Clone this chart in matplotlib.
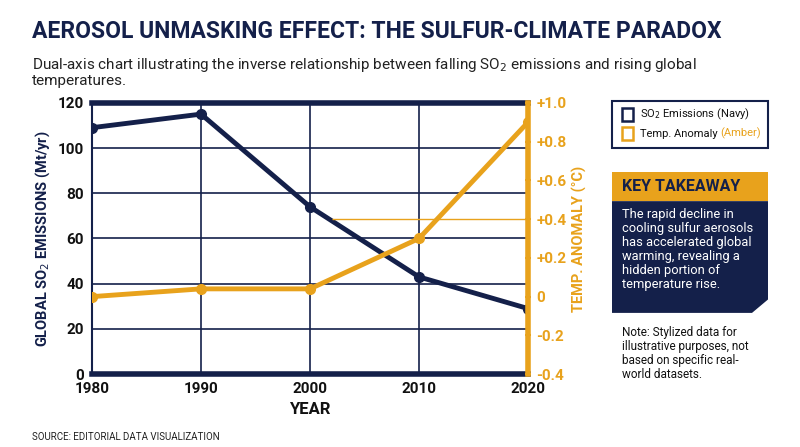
import matplotlib
matplotlib.use("Agg")
import matplotlib.pyplot as plt
from matplotlib.patches import Polygon, Rectangle

plt.rcParams['font.family'] = ['Roboto', 'DejaVu Sans']

NAVY = "#14204a"
AMBER = "#e8a21c"

years = [1980, 1990, 2000, 2010, 2020]
so2 = [109, 115, 74, 43, 29]
temp = [0.0, 0.04, 0.04, 0.30, 0.90]

fig = plt.figure(figsize=(8, 4.47), dpi=100)
ax = fig.add_axes([0.115, 0.163, 0.545, 0.607])
ax.plot(years, so2, color=NAVY, lw=3.5, marker='o', ms=7, zorder=4)
ax.set_xlim(1980, 2020)
ax.set_ylim(0, 120)
ax.set_xticks(years)
ax.set_yticks(range(0, 121, 20))
ax.grid(color=NAVY, lw=1.2)
ax.tick_params(length=0, labelsize=11, colors="#111", pad=6)
for lab in ax.get_xticklabels() + ax.get_yticklabels():
    lab.set_fontweight('bold')
ax.spines['top'].set_linewidth(4)
ax.spines['bottom'].set_linewidth(4)
ax.spines['left'].set_linewidth(1.5)
for s in ax.spines.values():
    s.set_color(NAVY)
ax.spines['right'].set_visible(False)
ax.set_xlabel("YEAR", fontsize=12, fontweight='bold', color="#111")
ax.set_ylabel("GLOBAL SO$_2$ EMISSIONS (Mt/yr)", fontsize=10.5, fontweight='bold', color=NAVY)

ax2 = ax.twinx()
ax2.plot(years, temp, color=AMBER, lw=3.5, marker='o', ms=7, zorder=4)
ax2.hlines(0.4, 2002, 2020, color=AMBER, lw=1)
ax2.set_ylim(-0.4, 1.0)
ticks2 = [-0.4, -0.2, 0, 0.2, 0.4, 0.6, 0.8, 1.0]
ax2.set_yticks(ticks2)
ax2.set_yticklabels(["-0.4", "-0.2", "0", "+0.2", "+0.4", "+0.6", "+0.8", "+1.0"])
ax2.tick_params(axis='y', colors=AMBER, labelcolor=AMBER, length=5, width=1.5, direction='inout', labelsize=11)
for lab in ax2.get_yticklabels():
    lab.set_fontweight('bold')
for s in ['top', 'bottom', 'left']:
    ax2.spines[s].set_visible(False)
ax2.spines['right'].set_color(AMBER)
ax2.spines['right'].set_linewidth(4)
ax2.set_ylabel("TEMP. ANOMALY (°C)", fontsize=10.5, fontweight='bold', color=AMBER)

fig.text(0.04, 0.915, "AEROSOL UNMASKING EFFECT: THE SULFUR-CLIMATE PARADOX",
         fontsize=16.5, fontweight='bold', color=NAVY)
fig.text(0.04, 0.81, "Dual-axis chart illustrating the inverse relationship between falling SO$_2$ emissions and rising global\ntemperatures.",
         fontsize=11, color="#222", linespacing=1.0)
fig.text(0.04, 0.015, "SOURCE: EDITORIAL DATA VISUALIZATION", fontsize=7, color="#222")

# legend box
fig.patches.append(Rectangle((0.765, 0.67), 0.195, 0.105, transform=fig.transFigure,
                             fill=False, ec=NAVY, lw=1.5))
fig.patches.append(Rectangle((0.778, 0.73), 0.013, 0.028, transform=fig.transFigure,
                             fill=False, ec=NAVY, lw=1.8))
fig.patches.append(Rectangle((0.778, 0.687), 0.013, 0.028, transform=fig.transFigure,
                             fill=False, ec=AMBER, lw=1.8))
fig.text(0.8, 0.744, "SO$_2$ Emissions (Navy)", fontsize=8, va='center', color="#111")
t = fig.text(0.8, 0.701, "Temp. Anomaly ", fontsize=8, va='center', color="#111")
fig.text(0, 0, "(Amber)", fontsize=8, va='center', color=AMBER,
         transform=matplotlib.transforms.offset_copy(fig.transFigure, fig=fig, x=0, y=0))
fig.texts[-1].remove()
fig.canvas.draw()
bb = t.get_window_extent().transformed(fig.transFigure.inverted())
fig.text(bb.x1, 0.701, "(Amber)", fontsize=8, va='center', color=AMBER)

# takeaway box
fig.patches.append(Rectangle((0.765, 0.55), 0.195, 0.065, transform=fig.transFigure,
                             fc=AMBER, ec='none'))
fig.patches.append(Polygon([(0.765, 0.55), (0.96, 0.55), (0.96, 0.33), (0.94, 0.3), (0.765, 0.3)],
                           closed=True, transform=fig.transFigure, fc=NAVY, ec='none'))
fig.text(0.778, 0.582, "KEY TAKEAWAY", fontsize=11.5, fontweight='bold', va='center', color=NAVY)
fig.text(0.778, 0.535, "The rapid decline in\ncooling sulfur aerosols\nhas accelerated global\nwarming, revealing a\nhidden portion of\ntemperature rise.",
         fontsize=9.3, va='top', color="white", linespacing=1.1)
fig.text(0.778, 0.27, "Note: Stylized data for\nillustrative purposes, not\nbased on specific real-\nworld datasets.",
         fontsize=8.5, va='top', color="#111", linespacing=1.1)

fig.savefig("out.png", dpi=100)
